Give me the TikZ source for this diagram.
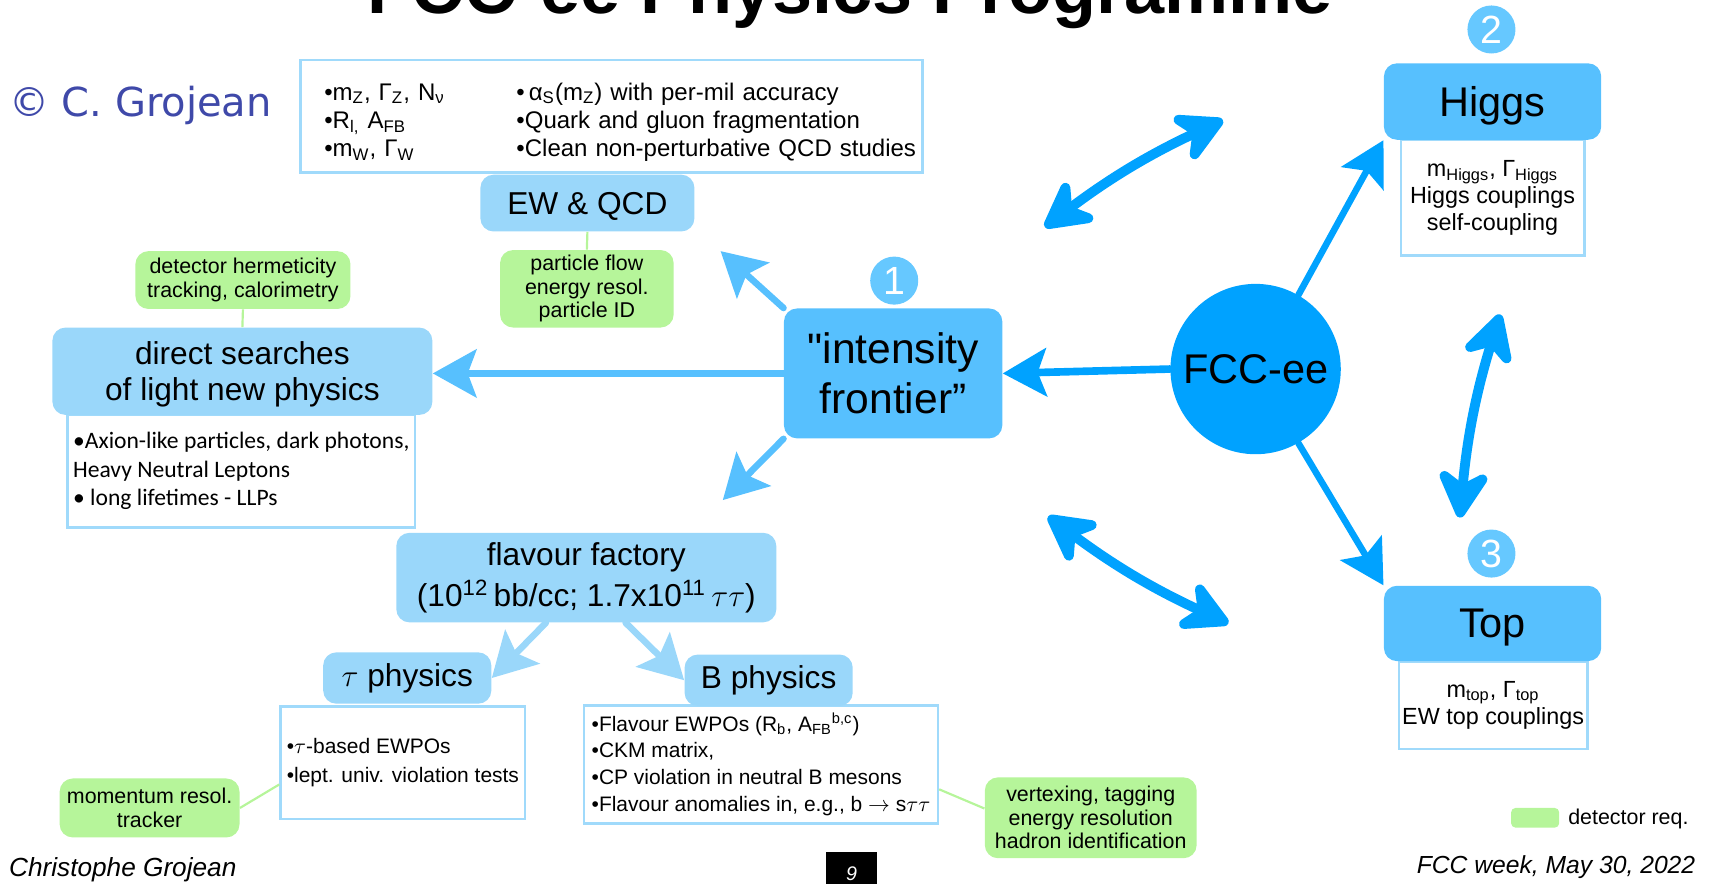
\documentclass[tikz,border=0pt]{standalone}
\usepackage{fontspec}
\setmainfont{Liberation Sans}
\newfontfamily\plainfont{Liberation Sans}
\newfontfamily\calfont{Carlito}
\newfontfamily\dvfont{DejaVu Sans}
\usepackage{tikz}
\usetikzlibrary{shapes,arrows.meta}
\definecolor{lightblue}{HTML}{9AD7FA}
\definecolor{midblue}{HTML}{57C0FE}
\definecolor{deepblue}{HTML}{00A2FF}
\definecolor{badgeblue}{HTML}{66C8FF}
\definecolor{frameblue}{HTML}{A0DAFB}
\definecolor{reqgreen}{HTML}{B6F59A}
\definecolor{signblue}{HTML}{3F49A9}
\tikzstyle{topic} = [fill=lightblue, rounded corners=6pt, align=center, font=\fontsize{14.5}{16.5}\selectfont]
\tikzstyle{main} = [fill=midblue, rounded corners=6pt, align=center, font=\fontsize{19.5}{23}\selectfont]
\tikzstyle{detail} = [draw=frameblue, line width=1.2pt, fill=white, align=left, inner xsep=1.5pt, font=\fontsize{9.6}{12.3}\selectfont]
\tikzstyle{detreq} = [fill=reqgreen, rounded corners=6pt, align=center, inner ysep=2pt, font=\fontsize{9.8}{10.75}\selectfont]
\tikzstyle{badge} = [circle, fill=badgeblue, text=white, minimum size=22pt, inner sep=0pt, font=\fontsize{18}{18}\selectfont]
\tikzstyle{reqline} = [draw=reqgreen, line width=1pt]
\tikzstyle{fatarrow} = [line width=3pt, line cap=round, -{Stealth[length=20pt,width=22pt,inset=4pt]}]
\tikzstyle{handarrow} = [deepblue, line width=4.5pt, line cap=round, {Stealth[length=27pt,width=29pt,inset=9pt,round]}-{Stealth[length=27pt,width=29pt,inset=9pt,round]}]

\begin{document}
\begin{tikzpicture}[x=0.5pt, y=-0.5pt]
\useasboundingbox (0,0) rectangle (1568,809);
\clip (0,0) rectangle (1568,809);
\node[anchor=base, inner sep=0pt, font=\fontsize{33}{33}\selectfont\bfseries] (title) at (779,12) {FCC-ee Physics Programme};
\node[anchor=base west, inner sep=0pt, text=signblue, font=\dvfont\fontsize{18.3}{18}\selectfont] (sign) at (8,107) {© C. Grojean};

\node[detail, minimum width=285pt, minimum height=51.5pt, text width=263pt, inner xsep=11pt, font=\fontsize{11}{13}\selectfont] (ewdet) at (560,106.5) {\raisebox{-5.7pt}[0pt][0pt]{\begin{tabular}{@{}p{88pt}@{}l@{}}
•m\textsubscript{Z}, Γ\textsubscript{Z}, N\textsubscript{ν} & •\,α\textsubscript{S}(m\textsubscript{Z}) with per-mil accuracy\\
•R\textsubscript{l,} A\textsubscript{FB} & •Quark and gluon fragmentation\\
•m\textsubscript{W}, Γ\textsubscript{W} & •Clean non-perturbative QCD studies
\end{tabular}}};
\node[detail, minimum width=159pt, minimum height=51.5pt, font=\calfont\fontsize{10.8}{13}\selectfont] (directdet) at (221,431.5) {•Axion-like particles, dark photons,\\Heavy Neutral Leptons\\• long lifetimes - LLPs};
\node[detail, minimum width=112pt, minimum height=51.5pt] (taudet) at (369,698.5) {•$\tau$-based EWPOs\\[0.6pt]•lept. univ. violation tests};
\node[detail, minimum width=162pt, minimum height=52pt] (bdet) at (697,700) {•Flavour EWPOs (R\textsubscript{b}, A\textsubscript{FB}\textsuperscript{b,c})\\•CKM matrix,\\•CP violation in neutral B mesons\\•Flavour anomalies in, e.g., b $\rightarrow$ s$\tau\tau$};
\node[detail, minimum width=84pt, minimum height=53pt, align=center, font=\fontsize{10.7}{12.3}\selectfont] (higgsdet) at (1367,181) {m\textsubscript{Higgs}, Γ\textsubscript{Higgs}\\Higgs couplings\\self-coupling};
\node[detail, minimum width=84.5pt, minimum height=40pt, align=center, font=\fontsize{10.7}{12.5}\selectfont] (topdet) at (1367.5,646) {m\textsubscript{top}, Γ\textsubscript{top}\\EW top couplings};

\node[topic, minimum width=98pt, minimum height=26pt, text depth=0pt] (ewqcd) at (538,186) {EW \& QCD};
\node[topic, minimum width=174pt, minimum height=40pt, text depth=0pt] (direct) at (222,340) {direct searches\\of light new physics};
\node[topic, minimum width=174pt, minimum height=41pt, font=\fontsize{14.5}{19}\selectfont] (flavour) at (537,529) {flavour factory\\(10\textsuperscript{12}\,bb/cc; 1.7x10\textsuperscript{11}\,$\tau\tau$)};
\node[topic, minimum width=77pt, minimum height=23.5pt] (tauphys) at (373,621) {$\tau$ physics};
\node[topic, minimum width=77pt, minimum height=23.5pt] (bphys) at (704,623) {B physics};

\node[main, minimum width=100pt, minimum height=59.5pt] (intensity) at (818,342) {{\plainfont "}intensity\\frontier”};
\node[main, minimum width=99.5pt, minimum height=35pt, text depth=0pt, font=\fontsize{19}{19}\selectfont] (higgs) at (1367,93) {Higgs};
\node[main, minimum width=99.5pt, minimum height=34.5pt, text depth=0pt, font=\fontsize{19}{19}\selectfont] (top) at (1367,571) {Top};
\node[circle, fill=deepblue, minimum size=78pt, inner sep=0pt, font=\fontsize{19}{19}\selectfont] (fcc) at (1150,338) {FCC-ee};

\node[badge] (one) at (819,257) {1};
\node[badge] (two) at (1366,27) {2};
\node[badge] (three) at (1366,507) {3};

\node[detreq, minimum width=98.5pt, minimum height=26.5pt] (hermetic) at (222.5,256.5) {detector hermeticity\\tracking, calorimetry};
\node[detreq, minimum width=79.5pt, minimum height=35.5pt] (pflow) at (537.5,264.5) {particle flow\\energy resol.\\particle ID};
\node[detreq, minimum width=80pt, minimum height=27pt] (momres) at (137,740) {momentum resol.\\tracker};
\node[detreq, minimum width=97pt, minimum height=37pt] (vertex) at (999,749) {vertexing, tagging\\energy resolution\\hadron identification};
\node[fill=reqgreen, rounded corners=2pt, minimum width=22pt, minimum height=9pt, inner sep=0pt] (legend) at (1406,749) {};
\node[anchor=west, inner sep=0pt, font=\fontsize{9.8}{10}\selectfont] (legendtext) at (1436,750) {detector req.};

\draw[reqline] (hermetic.south) -- (direct.north);
\draw[reqline] (pflow.north) -- (ewqcd.south);
\draw[reqline] (momres.east) -- (taudet.190);
\draw[reqline] (bdet.-8) -- (vertex.175);

\coordinate (ewtip) at (660,230);
\coordinate (flavtip) at (662,458);
\draw[fatarrow, midblue] (intensity.west) -- (direct.east |- intensity.west);
\draw[fatarrow, midblue] (intensity.north west) -- (ewtip);
\draw[fatarrow, midblue] (intensity.south west) -- (flavtip);
\draw[fatarrow, deepblue, line width=3.5pt] (fcc.west) -- (intensity.east);
\draw[fatarrow, deepblue] (fcc.60) -- (higgs.south west);
\draw[fatarrow, deepblue] (fcc.-60) -- (top.north west);
\draw[fatarrow, lightblue] ([xshift=-18.5pt]flavour.south) -- (tauphys.east);
\draw[fatarrow, lightblue] ([xshift=18pt]flavour.south) -- (bphys.west);

\coordinate (ewqcdend) at (957,208); \coordinate (higgsend) at (1120,110);
\coordinate (flavend) at (960,473); \coordinate (topend) at (1125,571);
\coordinate (higgsup) at (1374,288); \coordinate (topup) at (1337,474);
\draw[handarrow] (ewqcdend) to[bend left=6] (higgsend);
\draw[handarrow] (flavend) to[bend right=6] (topend);
\draw[handarrow] (topup) to[bend left=6] (higgsup);

\node[anchor=base west, inner sep=0pt, font=\itshape\fontsize{12}{12}\selectfont] (author) at (8,803) {Christophe Grojean};
\node[anchor=base east, inner sep=0pt, font=\itshape\fontsize{11.3}{12}\selectfont] (meeting) at (1553,800) {FCC week, May 30, 2022};
\node[fill=black, text=white, minimum width=23.5pt, minimum height=20pt, inner sep=0pt, font=\itshape\fontsize{9}{9}\selectfont] (pagenum) at (780,800) {\raisebox{-2pt}{9}};
\end{tikzpicture}
\end{document}
